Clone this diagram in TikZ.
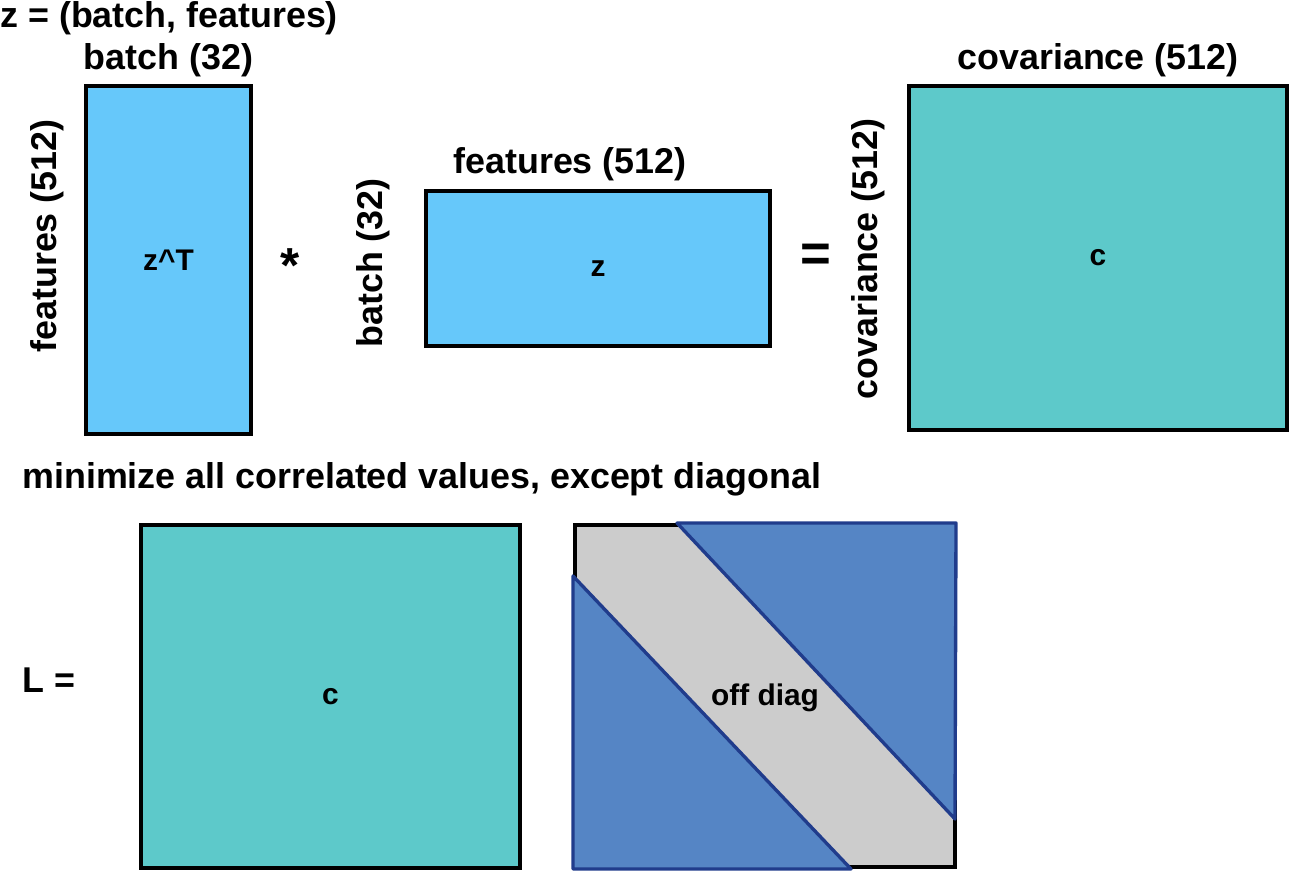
\documentclass[tikz,border=0pt]{standalone}
\usepackage{fontspec}
\setmainfont{Liberation Sans}
\usepackage{tikz}
\usetikzlibrary{positioning}

\definecolor{zblue}{HTML}{66C8FA}
\definecolor{covteal}{HTML}{5DC9CA}
\definecolor{diaggray}{HTML}{CCCCCC}
\definecolor{triblue}{HTML}{5585C5}
\definecolor{trinavy}{HTML}{203C8C}

\tikzset{
  lbl/.style={font=\fontsize{20.4}{24}\selectfont\bfseries, inner sep=0pt},
  inlbl/.style={font=\fontsize{17}{20}\selectfont\bfseries},
  mat/.style={draw=black, line width=2.4pt, inner sep=0pt},
  tri/.style={fill=triblue, draw=trinavy, line width=1.9pt, line join=round}
}

\begin{document}
\begin{tikzpicture}[x=0.02cm, y=-0.02cm]
   \useasboundingbox (0,0) rectangle (1290,872);
   % top row: z^T * z = c
   \node[lbl, anchor=west] (title) at (0,18) {z = (batch, features)};
   \node[mat, fill=zblue, minimum width=3.3cm, minimum height=6.96cm] (zt) at (168.5,260) {};
   \node[inlbl] (ztlbl) at (zt.center) {z\^{}T};
   \node[lbl] (ztbatch) at (168.5,60) {batch (32)};
   \node[lbl, rotate=90] (ztfeat) at (47,236) {features (512)};
   \node[lbl, font=\fontsize{28}{32}\selectfont\bfseries] (times) at (290,266) {*};
   \node[mat, fill=zblue, minimum width=6.88cm, minimum height=3.1cm] (z) at (598,268.5) {};
   \node[inlbl] (zlbl) at (z.center) {z};
   \node[lbl] (zfeat) at (570,164) {features (512)};
   \node[lbl, rotate=90] (zbatch) at (373,263) {batch (32)};
   \node[lbl, font=\fontsize{30}{34}\selectfont\bfseries] (equals) at (816,258) {=};
   \node[mat, fill=covteal, minimum width=7.56cm, minimum height=6.88cm] (c) at (1098,258) {};
   \node[inlbl] (clbl) at (c.center) {c};
   \node[lbl] (ccov) at (1098,60) {covariance (512)};
   \node[lbl, rotate=90] (crowcov) at (868,259) {covariance (512)};
   % bottom row: loss
   \node[lbl, anchor=west] (note) at (22,479) {minimize all correlated values, except diagonal};
   \node[lbl, anchor=west] (loss) at (22,680) {L =};
   \node[mat, fill=covteal, minimum width=7.58cm, minimum height=6.86cm] (c2) at (330.5,696.5) {};
   \node[inlbl] (c2lbl) at (c2.center) {c};
   \node[mat, fill=diaggray, minimum width=7.6cm, minimum height=6.84cm] (off) at (765,696) {};
   \coordinate (up1) at (677,523);
   \coordinate (up2) at (956,523);
   \coordinate (up3) at (955,819);
   \coordinate (lo1) at (573,576);
   \coordinate (lo2) at (573,869);
   \coordinate (lo3) at (851,869);
   \draw[tri] (up1) -- (up2) -- (up3) -- cycle;
   \draw[tri] (lo1) -- (lo2) -- (lo3) -- cycle;
   \node[inlbl] (offlbl) at (765,698) {off diag};
\end{tikzpicture}
\end{document}
